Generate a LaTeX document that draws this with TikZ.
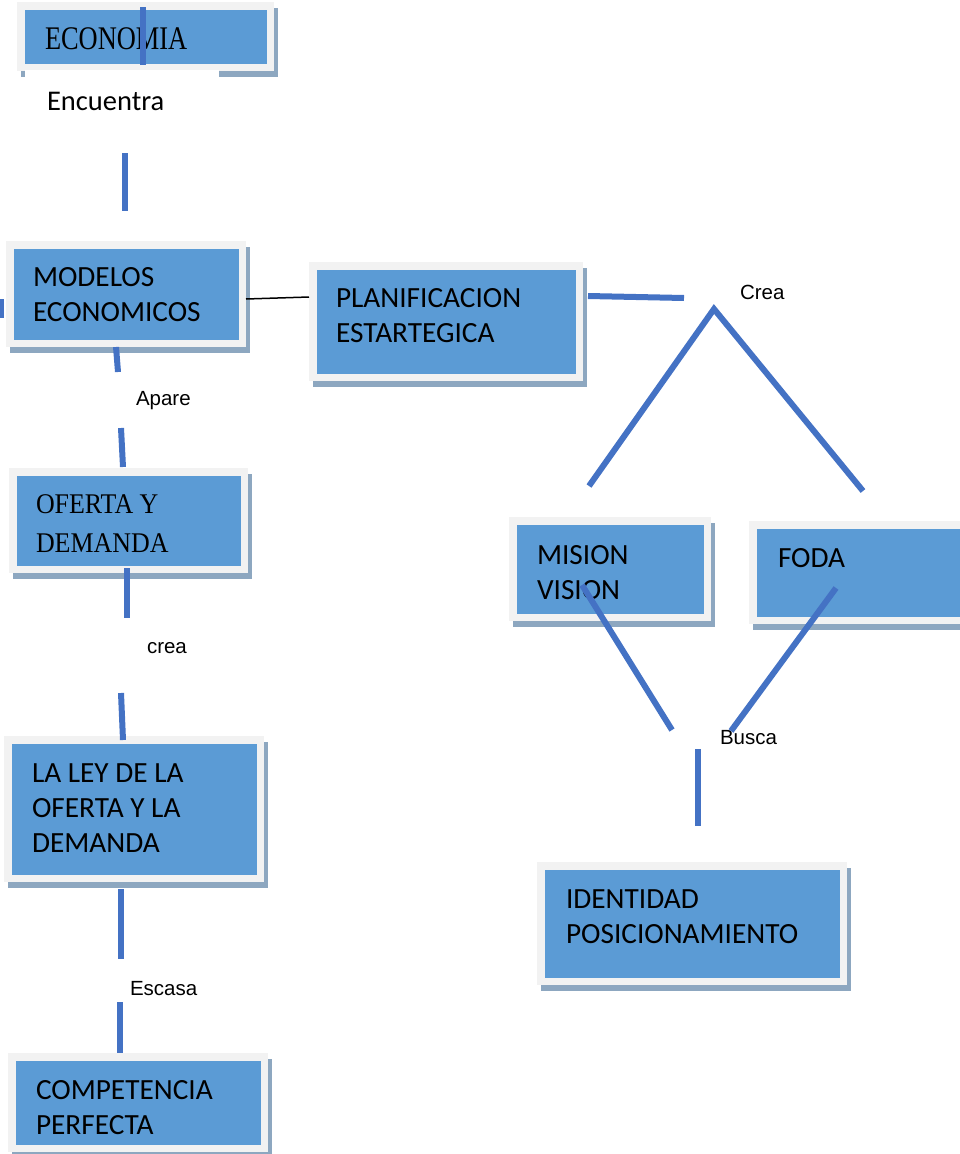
\documentclass[tikz,border=0pt]{standalone}
\usepackage{fontspec}
\newfontfamily\calibri{Carlito}
\newfontfamily\serifA[FakeStretch=0.80]{Liberation Serif}
\newfontfamily\serifB[FakeStretch=0.91]{Liberation Serif}
\newfontfamily\arial{Liberation Sans}
\definecolor{boxblue}{HTML}{5B9BD5}
\definecolor{framegray}{HTML}{F2F2F2}
\definecolor{shadowblue}{HTML}{8DA7C0}
\definecolor{linkblue}{HTML}{4472C4}
\tikzset{
  conceptbox/.style={rectangle, inner sep=0pt, outer sep=0pt, anchor=north west,
    fill=framegray,
    preaction={fill=shadowblue, transform canvas={shift={(3.5pt,-6pt)}}},
    path picture={\fill[boxblue]
      ([shift={(7.5pt,-7.5pt)}]path picture bounding box.north west) rectangle
      ([shift={(-7.5pt,7.5pt)}]path picture bounding box.south east);}},
  % multi-line texts are placed by the baseline of their last line
  boxtext/.style={anchor=base west, inner sep=0pt, outer sep=0pt, align=left,
    font=\calibri\fontsize{29.3}{35}\selectfont},
  serifbig/.style={boxtext, font=\serifA\fontsize{33}{40}\selectfont},
  seriftext/.style={boxtext, font=\serifB\fontsize{28.5}{39}\selectfont},
  linklabel/.style={anchor=base west, inner sep=0pt, outer sep=0pt,
    font=\arial\fontsize{20.5}{24}\selectfont},
  link/.style={draw=linkblue, line width=6pt},
  thinlink/.style={draw=black, line width=1.5pt}
}
\begin{document}
\begin{tikzpicture}[x=1pt, y=-1pt]
\useasboundingbox (0,0) rectangle (960,1154);

% concept boxes: grey frame, blue face, offset shadow
\node[conceptbox, minimum width=257pt, minimum height=69pt]  (economia)  at (17,2) {};
\node[conceptbox, minimum width=240pt, minimum height=106pt] (modelos)   at (6,241) {};
\node[conceptbox, minimum width=274pt, minimum height=119pt] (planif)    at (309,262) {};
\node[conceptbox, minimum width=239pt, minimum height=105pt] (oferta)    at (9,468) {};
\node[conceptbox, minimum width=260pt, minimum height=146pt] (ley)       at (4,736) {};
\node[conceptbox, minimum width=260pt, minimum height=99pt]  (compet)    at (8,1053) {};
\node[conceptbox, minimum width=202pt, minimum height=104pt] (mision)    at (509,517) {};
\node[conceptbox, minimum width=231pt, minimum height=103pt] (foda)      at (749,521) {};
\node[conceptbox, minimum width=310pt, minimum height=123pt] (identidad) at (537,862) {};

% label background hiding part of the shadow
\node[fill=white, inner sep=0pt, outer sep=0pt, anchor=north west,
      minimum width=194pt, minimum height=58pt] (encuentra-bg) at (25,70) {};

% box texts
\node[serifbig]  (economia-t)  at (45,49)   {ECONOMIA};
\node[boxtext]   (modelos-t)   at (33,321)  {MODELOS\\ECONOMICOS};
\node[boxtext]   (planif-t)    at (336,342) {PLANIFICACION\\ESTARTEGICA};
\node[seriftext] (oferta-t)    at (36,552)  {OFERTA Y\\DEMANDA};
\node[boxtext]   (ley-t)       at (32,852)  {LA LEY DE LA\\OFERTA Y LA\\DEMANDA};
\node[boxtext]   (compet-t)    at (36,1134) {COMPETENCIA\\PERFECTA};
\node[boxtext]   (mision-t)    at (537,599) {MISION\\VISION};
\node[boxtext]   (foda-t)      at (778,567) {FODA};
\node[boxtext]   (identidad-t) at (566,943) {IDENTIDAD\\POSICIONAMIENTO};

% connector labels
\node[boxtext, font=\calibri\fontsize{28.5}{34}\selectfont] (encuentra) at (47,110) {Encuentra};
\node[linklabel] (apare)  at (136,405) {Apare};
\node[linklabel] (crea1)  at (147,653) {crea};
\node[linklabel] (escasa) at (130,995) {Escasa};
\node[linklabel] (crea2)  at (740,299) {Crea};
\node[linklabel] (busca)  at (720,744) {Busca};

% connector end points
\coordinate (ecoA) at (143,7);    \coordinate (ecoB) at (143,65);
\coordinate (encA) at (125,153);  \coordinate (encB) at (125,211);
\coordinate (apA)  at (116,347);  \coordinate (apB)  at (118,372);
\coordinate (apC)  at (121,428);  \coordinate (apD)  at (123,467);
\coordinate (crA)  at (127,568);  \coordinate (crB)  at (127,618);
\coordinate (crC)  at (121,693);  \coordinate (crD)  at (123,740);
\coordinate (esA)  at (121,889);  \coordinate (esB)  at (121,959);
\coordinate (esC)  at (120,1002); \coordinate (esD)  at (120,1053);
\coordinate (edge1) at (1,299);   \coordinate (edge2) at (1,318);
\coordinate (plA)  at (588,296);  \coordinate (plB)  at (684,298);
\coordinate (vL)   at (589,486);  \coordinate (vTop) at (714,309);
\coordinate (vR)   at (863,491);
\coordinate (miA)  at (582,585);  \coordinate (miB)  at (672,730);
\coordinate (foA)  at (836,588);  \coordinate (foB)  at (731,731);
\coordinate (buA)  at (698,749);  \coordinate (buB)  at (698,826);

% connectors
\draw[link] (ecoA) -- (ecoB);
\draw[link] (encA) -- (encB);
\draw[link] (apA) -- (apB);
\draw[link] (apC) -- (apD);
\draw[link] (crA) -- (crB);
\draw[link] (crC) -- (crD);
\draw[link] (esA) -- (esB);
\draw[link] (esC) -- (esD);
\draw[link] (edge1) -- (edge2);
\draw[thinlink] (modelos.east |- 0,299) -- (planif.west |- 0,297);
\draw[link] (plA) -- (plB);
\draw[link] (vL) -- (vTop) -- (vR);
\draw[link] (miA) -- (miB);
\draw[link] (foA) -- (foB);
\draw[link] (buA) -- (buB);
\end{tikzpicture}
\end{document}
